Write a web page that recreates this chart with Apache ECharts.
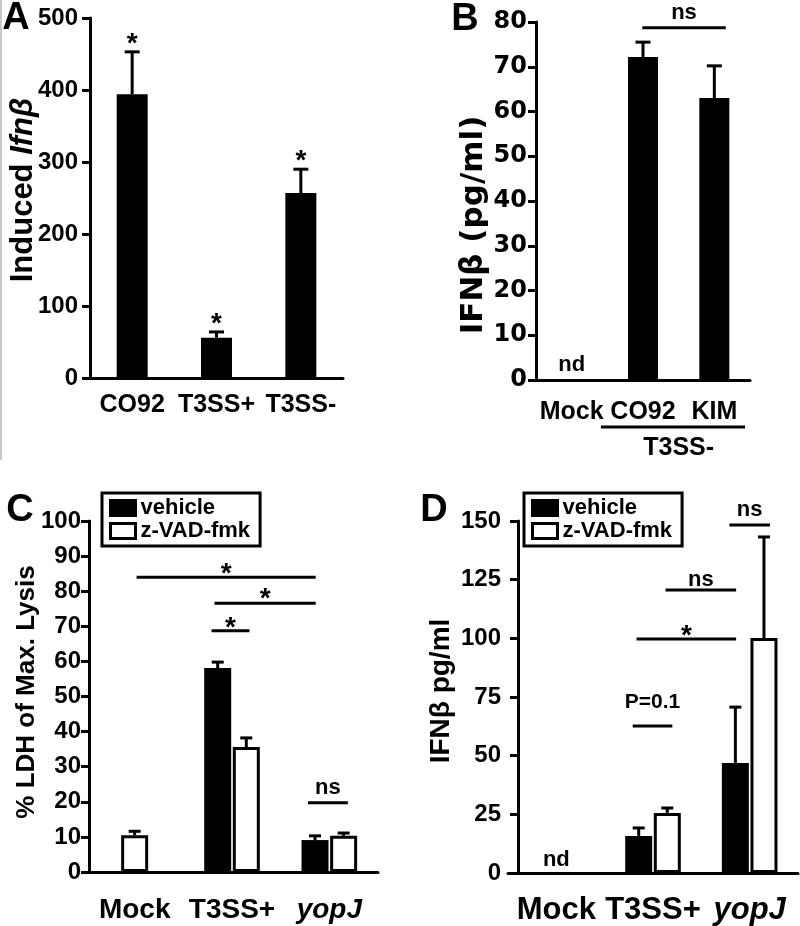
<!DOCTYPE html>
<html>
<head>
<meta charset="utf-8">
<script src="https://cdn.jsdelivr.net/npm/echarts@6/dist/echarts.min.js"></script>
<style>
  html, body { margin: 0; padding: 0; background: #fff; }
  #chart { width: 800px; height: 926px; }
</style>
</head>
<body>
<div id="chart"></div>
<script>
// A: induced Ifnb (fold)
const catsA = ['CO92', 'T3SS+', 'T3SS-'];
const meanA = [394, 56, 257];
const upperA = [453, 64, 290];
const starsA = ['*', '*', '*'];
const maxA = 500, stepA = 100;

// B: IFNb pg/ml, T3SS- strains
const catsB = ['Mock', 'CO92', 'KIM'];
const meanB = [null, 72.2, 63.0];
const upperB = [null, 75.5, 70.2];
const maxB = 80, stepB = 10;

// C: % LDH release
const catsC = ['Mock', 'T3SS+', 'yopJ'];
const vehicleC = [null, 58.1, 9.1];
const vehicleUpperC = [null, 59.8, 10.3];
const zvadC = [10.5, 35.6, 10.3];
const zvadUpperC = [11.6, 38.2, 11.1];
const maxC = 100, stepC = 10;

// D: IFNb pg/ml with caspase inhibitor
const catsD = ['Mock', 'T3SS+', 'yopJ'];
const vehicleD = [null, 15.8, 46.9];
const vehicleUpperD = [null, 19.2, 70.7];
const zvadD = [null, 25.6, 100.1];
const zvadUpperD = [null, 27.7, 143.2];
const maxD = 150, stepD = 25;

const legendNames = ['vehicle', 'z-VAD-fmk'];

const FONT = 'Liberation Sans';
const WIDE = 'DejaVu Sans';

const chart = echarts.init(document.getElementById('chart'));

const blackBar = { color: '#000' };
const whiteBar = { color: '#fff', borderColor: '#000', borderWidth: 3 };

function yAx(grid, max, step, margin, family, offset) {
  return {
    type: 'value', gridIndex: grid, min: 0, max: max, interval: step, offset: offset || 0,
    axisLine: { show: true, lineStyle: { color: '#000', width: 3 } },
    axisTick: { show: true, length: 8, lineStyle: { color: '#000', width: 3 } },
    splitLine: { show: false },
    axisLabel: { color: '#000', fontSize: 24, fontWeight: 'bold', fontFamily: family, margin: margin }
  };
}

function xAx(grid, cats, margin, size, tickLen, show) {
  return {
    type: 'category', gridIndex: grid, data: cats, show: show !== false,
    axisLine: { lineStyle: { color: '#000', width: 3 } },
    axisTick: { alignWithLabel: true, length: tickLen, lineStyle: { color: '#000', width: 3 } },
    axisLabel: {
      color: '#000', fontSize: size, fontWeight: 'bold', fontFamily: FONT, margin: margin, interval: 0,
      formatter: v => v === 'yopJ' ? '{i|' + v + '}' : v,
      rich: { i: { fontStyle: 'italic', fontWeight: 'bold', fontSize: size, fontFamily: FONT, color: '#000' } }
    }
  };
}

function errorBars(xi, yi, means, uppers, offsets, half, stars) {
  const data = [];
  means.forEach((m, i) => { if (m != null) data.push([i, m, uppers[i]]); });
  return {
    type: 'custom', xAxisIndex: xi, yAxisIndex: yi, z: 3, silent: true,
    encode: { x: 0, y: 2 },
    data: data,
    renderItem(params, api) {
      const i = api.value(0);
      const base = api.coord([i, api.value(1)]);
      const top = api.coord([i, api.value(2)]);
      const x = base[0] + offsets[i];
      const ln = { stroke: '#000', lineWidth: 3 };
      const children = [
        { type: 'line', shape: { x1: x, y1: base[1], x2: x, y2: top[1] }, style: ln },
        { type: 'line', shape: { x1: x - half, y1: top[1], x2: x + half, y2: top[1] }, style: ln }
      ];
      if (stars) {
        children.push({ type: 'text', x: x, y: top[1] - 8,
          style: { text: stars[i], fill: '#000', fontSize: 28, fontWeight: 'bold', fontFamily: FONT,
                   align: 'center', verticalAlign: 'middle' } });
      }
      return { type: 'group', children: children };
    }
  };
}

// bars sitting alone in a category (no vehicle) are centred on a twin axis
const lone = vehicleC.map(v => v == null);
const half = 14.3;

function legendAt(left) {
  return {
    left: left, top: 493, orient: 'vertical', data: legendNames, icon: 'rect',
    itemWidth: 25, itemHeight: 15, itemGap: 1, selectedMode: false,
    padding: [4, 10, 4, 7],
    borderColor: '#000', borderWidth: 3,
    itemStyle: { borderColor: '#000', borderWidth: 3 },
    textStyle: { color: '#000', fontSize: 22, fontWeight: 'bold', fontFamily: FONT }
  };
}

const option = {
  animation: false,
  backgroundColor: '#fff',
  grid: [
    { left: 90, top: 18, width: 253, height: 360 },
    { left: 536, top: 22, width: 214, height: 358 },
    { left: 86, top: 521, width: 292, height: 351 },
    { left: 508, top: 521, width: 290, height: 352 }
  ],
  xAxis: [
    xAx(0, catsA, 15, 25, 12),
    xAx(1, catsB, 20, 25, 15),
    xAx(2, catsC, 24, 28, 18),
    xAx(3, catsD, 22, 31, 19),
    xAx(2, catsC, 24, 28, 18, false)
  ],
  yAxis: [
    yAx(0, maxA, stepA, 12, FONT),
    yAx(1, maxB, stepB, 9, WIDE),
    yAx(2, maxC, stepC, 8, FONT, -3),
    yAx(3, maxD, stepD, 17, FONT, -10)
  ],
  legend: [legendAt(102), legendAt(524)],
  series: [
    { name: 'Ifnb', type: 'bar', xAxisIndex: 0, yAxisIndex: 0, barWidth: 31, data: meanA, itemStyle: blackBar },
    errorBars(0, 0, meanA, upperA, [0, 0, 0], 7.5, starsA),

    { name: 'IFNb', type: 'bar', xAxisIndex: 1, yAxisIndex: 1, barWidth: 30, data: meanB, itemStyle: blackBar },
    errorBars(1, 1, meanB, upperB, [0, 0, 0], 7.5),

    { name: 'vehicle', type: 'bar', xAxisIndex: 2, yAxisIndex: 2, barWidth: 27, barGap: '6%',
      data: vehicleC, itemStyle: blackBar },
    { name: 'z-VAD-fmk', type: 'bar', xAxisIndex: 2, yAxisIndex: 2, barWidth: 27, barGap: '6%',
      data: zvadC.map((v, i) => lone[i] ? null : v), itemStyle: whiteBar },
    { name: 'z-VAD-fmk', type: 'bar', xAxisIndex: 4, yAxisIndex: 2, barWidth: 27,
      data: zvadC.map((v, i) => lone[i] ? v : null), itemStyle: whiteBar },
    errorBars(2, 2, vehicleC, vehicleUpperC, [-half, -half, -half], 6),
    errorBars(2, 2, zvadC, zvadUpperC, lone.map(l => l ? 0 : half), 6),

    { name: 'vehicle', type: 'bar', xAxisIndex: 3, yAxisIndex: 3, barWidth: 27, barGap: '6%',
      data: vehicleD, itemStyle: blackBar },
    { name: 'z-VAD-fmk', type: 'bar', xAxisIndex: 3, yAxisIndex: 3, barWidth: 27, barGap: '6%',
      data: zvadD, itemStyle: whiteBar },
    errorBars(3, 3, vehicleD, vehicleUpperD, [-half, -half, -half], 6),
    errorBars(3, 3, zvadD, zvadUpperD, [half, half, half], 6)
  ]
};

chart.setOption(option);

// significance brackets: from/to in category units, value on the y scale
const sigB = [{ from: 0.99, to: 2.16, value: 78.7, text: 'ns', dy: -15 }];
const sigC = [
  { from: 0.02, to: 1.86, value: 84.0, text: '*', dy: -3 },
  { from: 0.82, to: 1.86, value: 76.6, text: '*', dy: -4 },
  { from: 0.79, to: 1.18, value: 68.7, text: '*', dy: -3 },
  { from: 1.78, to: 2.19, value: 19.7, text: 'ns', dy: -15 }
];
const sigD = [
  { from: 0.79, to: 1.20, value: 62.6, text: 'P=0.1', dy: -24 },
  { from: 0.83, to: 1.86, value: 99.7, text: '*', dy: -3 },
  { from: 1.13, to: 1.86, value: 120.6, text: 'ns', dy: -10 },
  { from: 1.79, to: 2.21, value: 148.3, text: 'ns', dy: -15 }
];

function pos(idx, cat, val) {
  const f = { xAxisIndex: idx, yAxisIndex: idx };
  const p0 = chart.convertToPixel(f, [0, val]);
  const p1 = chart.convertToPixel(f, [1, val]);
  return [p0[0] + cat * (p1[0] - p0[0]), p0[1]];
}

function txt(x, y, text, size, extra) {
  return Object.assign({
    type: 'text', x: x, y: y, silent: true,
    style: { text: text, fill: '#000', fontSize: size, fontWeight: 'bold', fontFamily: FONT,
             align: 'center', verticalAlign: 'middle' }
  }, extra || {});
}

function hline(x1, x2, y) {
  return { type: 'line', silent: true, shape: { x1: x1, y1: y, x2: x2, y2: y },
           style: { stroke: '#000', lineWidth: 3 } };
}

const sizeOf = { '*': 28, 'ns': 22, 'P=0.1': 21 };
const graphics = [];

[[1, sigB], [2, sigC], [3, sigD]].forEach(([idx, list]) => {
  list.forEach(s => {
    const a = pos(idx, s.from, s.value), b = pos(idx, s.to, s.value);
    graphics.push(hline(a[0], b[0], a[1]));
    graphics.push(txt((a[0] + b[0]) / 2, a[1] + s.dy, s.text, sizeOf[s.text]));
  });
});

// not detected
const ndB = pos(1, 0, 0), ndD = pos(3, 0, 0);
graphics.push(txt(ndB[0], ndB[1] - 15, 'nd', 22));
graphics.push(txt(ndD[0], ndD[1] - 13, 'nd', 22));

// group line under CO92 / KIM
const g1 = pos(1, 0.41, 0), g2 = pos(1, 2.43, 0), gm = pos(1, 1.5, 0);
graphics.push(hline(g1[0], g2[0], g1[1] + 47));
graphics.push(txt(gm[0], g1[1] + 68, 'T3SS-', 25));

// panel letters
graphics.push(txt(16, 19, 'A', 38));
graphics.push(txt(465, 20, 'B', 38));
graphics.push(txt(20, 511, 'C', 38));
graphics.push(txt(434, 511, 'D', 38));

// axis titles
const rot = { rotation: Math.PI / 2 };
graphics.push({
  type: 'text', x: 23, y: 190, rotation: Math.PI / 2, silent: true,
  style: {
    text: 'Induced {i|Ifnβ}', fill: '#000', fontSize: 31, fontWeight: 'bold', fontFamily: FONT,
    align: 'center', verticalAlign: 'middle',
    rich: { i: { fontSize: 31, fontWeight: 'bold', fontStyle: 'italic', fontFamily: FONT, fill: '#000' } }
  }
});
graphics.push(txt(474, 225, 'IFNβ (pg/ml)', 31, rot));
graphics[graphics.length - 1].style.fontFamily = WIDE;
graphics.push(txt(27, 692, '% LDH of Max. Lysis', 26, rot));
graphics.push(txt(441, 691, 'IFNβ pg/ml', 28, rot));

// faint frame edge on the left of the top row
graphics.push({ type: 'line', silent: true, shape: { x1: 1, y1: 0, x2: 1, y2: 460 },
                style: { stroke: '#c8c8c8', lineWidth: 2 } });

chart.setOption({ graphic: graphics });
</script>
</body>
</html>
